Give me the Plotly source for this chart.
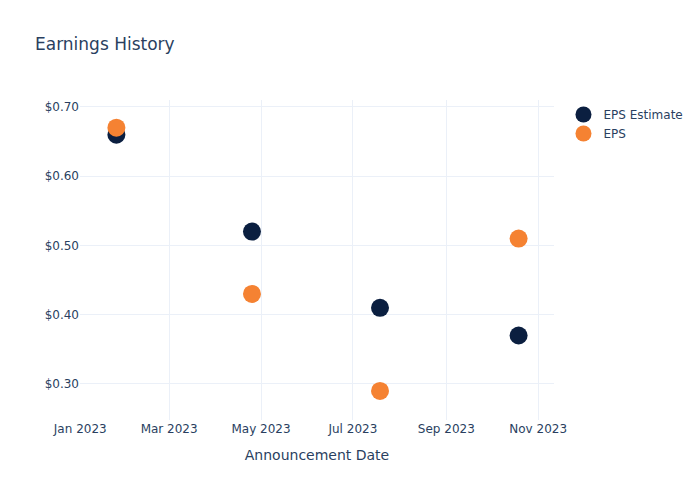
import plotly.graph_objects as go

dates = ["2023-01-25", "2023-04-25", "2023-07-19", "2023-10-19"]
eps_estimate = [0.66, 0.52, 0.41, 0.37]
eps_actual = [0.67, 0.43, 0.29, 0.51]

fig = go.Figure()
fig.add_trace(go.Scatter(x=dates, y=eps_estimate, mode="markers", name="EPS Estimate",
                         marker=dict(color="#0b1f40", size=18)))
fig.add_trace(go.Scatter(x=dates, y=eps_actual, mode="markers", name="EPS",
                         marker=dict(color="#f58232", size=18)))
fig.update_layout(
    template="plotly_white",
    font=dict(family="DejaVu Sans"),
    width=700, height=500,
    title=dict(text="Earnings History"),
    xaxis=dict(title="Announcement Date",
               range=["2022-12-31 20:00", "2023-11-11 12:00"],
               dtick="M2", tickformat="%b %Y"),
    yaxis=dict(range=[0.248, 0.71], tickformat="$.2f", dtick=0.1),
)
fig.write_html("out.html")
